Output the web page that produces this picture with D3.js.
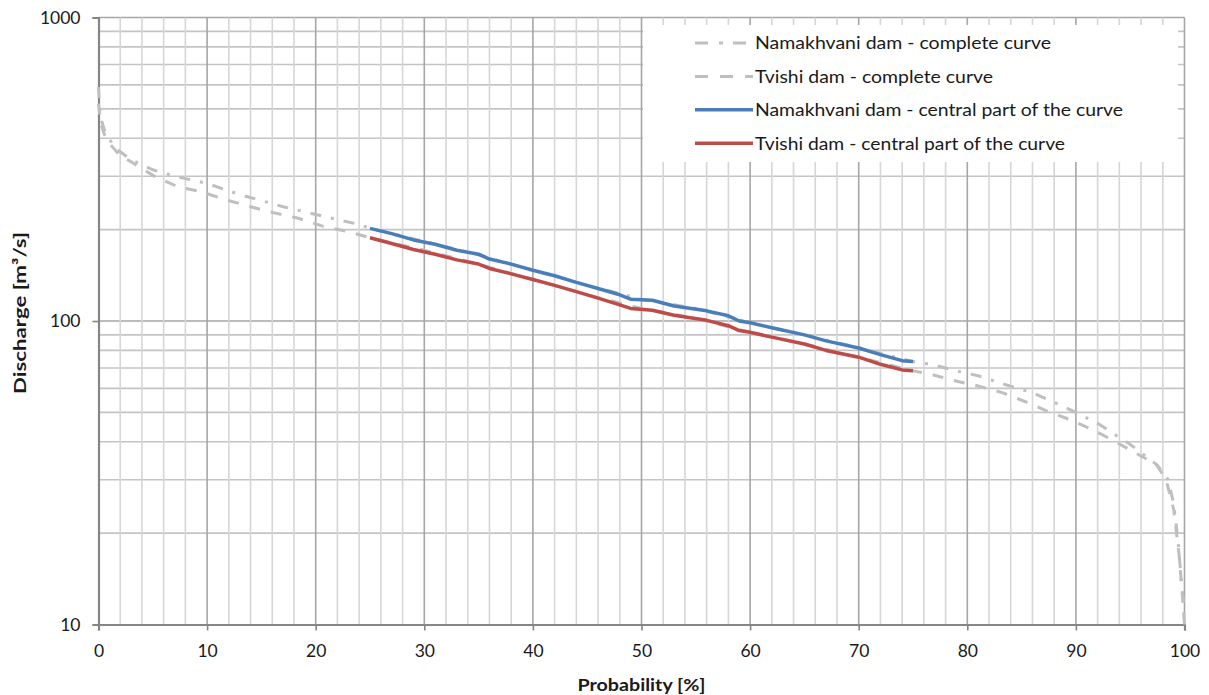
<!DOCTYPE html>
<html>
<head>
<meta charset="utf-8">
<script src="https://cdn.jsdelivr.net/npm/d3@7"></script>
<style>
  html, body { margin: 0; padding: 0; background: #fff; }
  #chart { width: 1209px; height: 695px; }
</style>
</head>
<body>
<div id="chart"></div>
<script>
// flow duration curves, Namakhvani and Tvishi dams

const seriesNames = [
  "Namakhvani dam - complete curve",
  "Tvishi dam - complete curve",
  "Namakhvani dam - central part of the curve",
  "Tvishi dam - central part of the curve"
];

// complete curves (0 - 100 %)
const namakhvaniProb = [0, 0.1, 0.3, 0.6, 1.5, 3, 5, 7, 10, 13, 17, 21, 24, 25, 30, 35, 40, 45, 50, 55, 60, 65, 70, 75,
  77, 79, 81, 83, 86, 89, 92, 95, 97.5, 98.5, 99, 99.4, 99.7, 99.9, 100];
const namakhvaniAll = [590, 500, 455, 420, 372, 340, 315, 300, 284, 261, 238, 220, 208, 202, 183, 165, 147, 131, 118, 110, 98.7, 90, 81.7, 73.5,
  71.5, 68.5, 66, 62.5, 58, 52, 46, 39.2, 33.5, 30, 25, 19, 14, 12, 10];

const tvishiProb = [0, 0.2, 0.5, 1, 2, 3.1, 5.2, 7.3, 9.4, 11.7, 14, 16, 18.4, 20.7, 23, 25, 30, 35, 40, 45, 50, 55, 60, 65, 70, 75,
  76.5, 78.7, 80.9, 83.2, 85.3, 87.4, 89.4, 91.5, 93.6, 95.4, 97.4, 98.3, 99, 99.5, 99.8, 100];
const tvishiAll = [520, 450, 415, 385, 350, 333, 299, 277, 267, 251, 238, 228, 218, 205, 197, 188, 171, 154, 137, 122, 110, 102, 91.8, 84, 76, 68.5,
  67, 63.7, 61.2, 58.1, 54.3, 50.4, 47.4, 43.9, 40.1, 36.9, 33.7, 30, 24, 17, 12.5, 10];

// central parts (25 - 75 %)
const centralProb = [25, 27, 29, 31, 33, 35, 36, 38, 40, 42, 44, 46, 48, 49, 51, 53, 56, 58, 59, 60, 62, 65, 67, 70, 72, 74, 75];
const namakhvaniCentral = [202, 194, 185, 179, 171, 166, 160, 154, 147, 141, 134, 128, 122, 118, 117, 112, 108, 104, 100, 98.7, 95, 90, 86, 81.5, 77.5, 74, 73.5];
const tvishiCentral = [188, 180, 172, 166, 159, 154, 149, 143, 137, 131, 125, 119, 113, 110, 108.5, 104.5, 100.5, 96.5, 93, 91.8, 88.5, 84, 80, 76, 72, 69, 68.5];

const xTicks = [0, 10, 20, 30, 40, 50, 60, 70, 80, 90, 100];
const yTicks = [10, 100, 1000];

function drawChart() {
  const width = 1209;
  const height = 695;
  const margin = { top: 17.5, right: 24.5, bottom: 70.5, left: 98.5 };
  const font = "Lato, 'Open Sans', sans-serif";

  const x = d3.scaleLinear()
    .domain([0, 100])
    .range([margin.left, width - margin.right]);

  const y = d3.scaleLog()
    .domain([10, 1000])
    .range([height - margin.bottom, margin.top]);

  const svg = d3.select("#chart")
    .append("svg")
    .attr("width", width)
    .attr("height", height)
    .attr("viewBox", [0, 0, width, height]);

  // grid
  const grid = svg.append("g");

  const yGrid = [];
  [10, 100].forEach(function(base) {
    for (let k = 2; k <= 9; k++) yGrid.push(base * k);
  });
  yGrid.push(100, 1000);

  grid.selectAll("line.h")
    .data(yGrid)
    .join("line")
    .attr("class", "h")
    .attr("x1", x(0))
    .attr("x2", x(100))
    .attr("y1", function(d) { return y(d); })
    .attr("y2", function(d) { return y(d); })
    .attr("stroke", function(d) { return (d === 100 || d === 1000) ? "#a6a6a6" : "#c4c4c4"; })
    .attr("stroke-width", 1.6);

  grid.selectAll("line.v")
    .data(d3.range(2, 101, 2))
    .join("line")
    .attr("class", "v")
    .attr("x1", function(d) { return x(d); })
    .attr("x2", function(d) { return x(d); })
    .attr("y1", y(10))
    .attr("y2", y(1000))
    .attr("stroke", function(d) { return d % 10 === 0 ? "#a6a6a6" : "#d6d6d6"; })
    .attr("stroke-width", 1.6);

  // legend background hides grid
  const legendBox = { x: 643, y: 25, w: 535, h: 137 };
  svg.append("rect")
    .attr("x", legendBox.x)
    .attr("y", legendBox.y)
    .attr("width", legendBox.w)
    .attr("height", legendBox.h)
    .attr("fill", "#fff");

  // axes
  const xAxis = d3.axisBottom(x)
    .tickValues(xTicks)
    .tickSize(6)
    .tickPadding(14)
    .tickFormat(d3.format("d"));

  const yAxis = d3.axisLeft(y)
    .tickValues(yTicks)
    .tickSize(6)
    .tickPadding(12)
    .tickFormat(d3.format("d"));

  const gx = svg.append("g")
    .attr("transform", "translate(0," + y(10) + ")")
    .call(xAxis);

  const gy = svg.append("g")
    .attr("transform", "translate(" + x(0) + ",0)")
    .call(yAxis);

  [gx, gy].forEach(function(g) {
    g.select(".domain").attr("stroke", "#868686").attr("stroke-width", 2.2);
    g.selectAll(".tick line").attr("stroke", "#868686").attr("stroke-width", 1.6);
    g.selectAll(".tick text")
      .attr("font-family", font)
      .attr("font-size", 17.5)
      .attr("fill", "#1a1a1a");
  });

  // lines
  const line = d3.line()
    .x(function(d) { return x(d[0]); })
    .y(function(d) { return y(d[1]); });

  const series = [
    { name: seriesNames[0], data: d3.zip(namakhvaniProb, namakhvaniAll), color: "#bfbfbf", width: 3, dash: "11,10,3,10", key: "13,11,4,10", textLen: 296 },
    { name: seriesNames[1], data: d3.zip(tvishiProb, tvishiAll), color: "#bfbfbf", width: 3, dash: "11,11", key: "13,12", textLen: 238 },
    { name: seriesNames[2], data: d3.zip(centralProb, namakhvaniCentral), color: "#4a7ebb", width: 3.5, dash: null, key: null, textLen: 368 },
    { name: seriesNames[3], data: d3.zip(centralProb, tvishiCentral), color: "#be4b48", width: 3.5, dash: null, key: null, textLen: 310 }
  ];

  svg.append("g")
    .selectAll("path")
    .data(series)
    .join("path")
    .attr("d", function(d) { return line(d.data); })
    .attr("fill", "none")
    .attr("stroke", function(d) { return d.color; })
    .attr("stroke-width", function(d) { return d.width; })
    .attr("stroke-dasharray", function(d) { return d.dash; })
    .attr("stroke-linejoin", "round");

  // legend
  const legend = svg.append("g")
    .selectAll("g")
    .data(series)
    .join("g")
    .attr("transform", function(d, i) { return "translate(695," + (43 + i * 33.4) + ")"; });

  legend.append("line")
    .attr("x1", 0)
    .attr("x2", 58)
    .attr("stroke", function(d) { return d.color; })
    .attr("stroke-width", function(d) { return d.width; })
    .attr("stroke-dasharray", function(d) { return d.key; });

  legend.append("text")
    .attr("x", 60)
    .attr("y", 0)
    .attr("dy", "0.35em")
    .attr("font-family", font)
    .attr("font-size", 18)
    .attr("fill", "#1a1a1a")
    .attr("textLength", function(d) { return d.textLen; })
    .attr("lengthAdjust", "spacingAndGlyphs")
    .text(function(d) { return d.name; });

  // axis titles
  svg.append("text")
    .attr("x", (x(0) + x(100)) / 2)
    .attr("y", 691)
    .attr("text-anchor", "middle")
    .attr("font-family", font)
    .attr("font-weight", "bold")
    .attr("font-size", 17)
    .attr("textLength", 128)
    .attr("lengthAdjust", "spacingAndGlyphs")
    .attr("fill", "#1a1a1a")
    .text("Probability [%]");

  svg.append("text")
    .attr("transform", "translate(26," + 313 + ") rotate(-90)")
    .attr("text-anchor", "middle")
    .attr("font-family", font)
    .attr("font-weight", "bold")
    .attr("font-size", 17)
    .attr("textLength", 162)
    .attr("lengthAdjust", "spacingAndGlyphs")
    .attr("fill", "#1a1a1a")
    .text("Discharge [m\u00b3/s]");
}

if (document.readyState === "loading") {
  document.addEventListener("DOMContentLoaded", drawChart);
} else {
  drawChart();
}
</script>
</body>
</html>
